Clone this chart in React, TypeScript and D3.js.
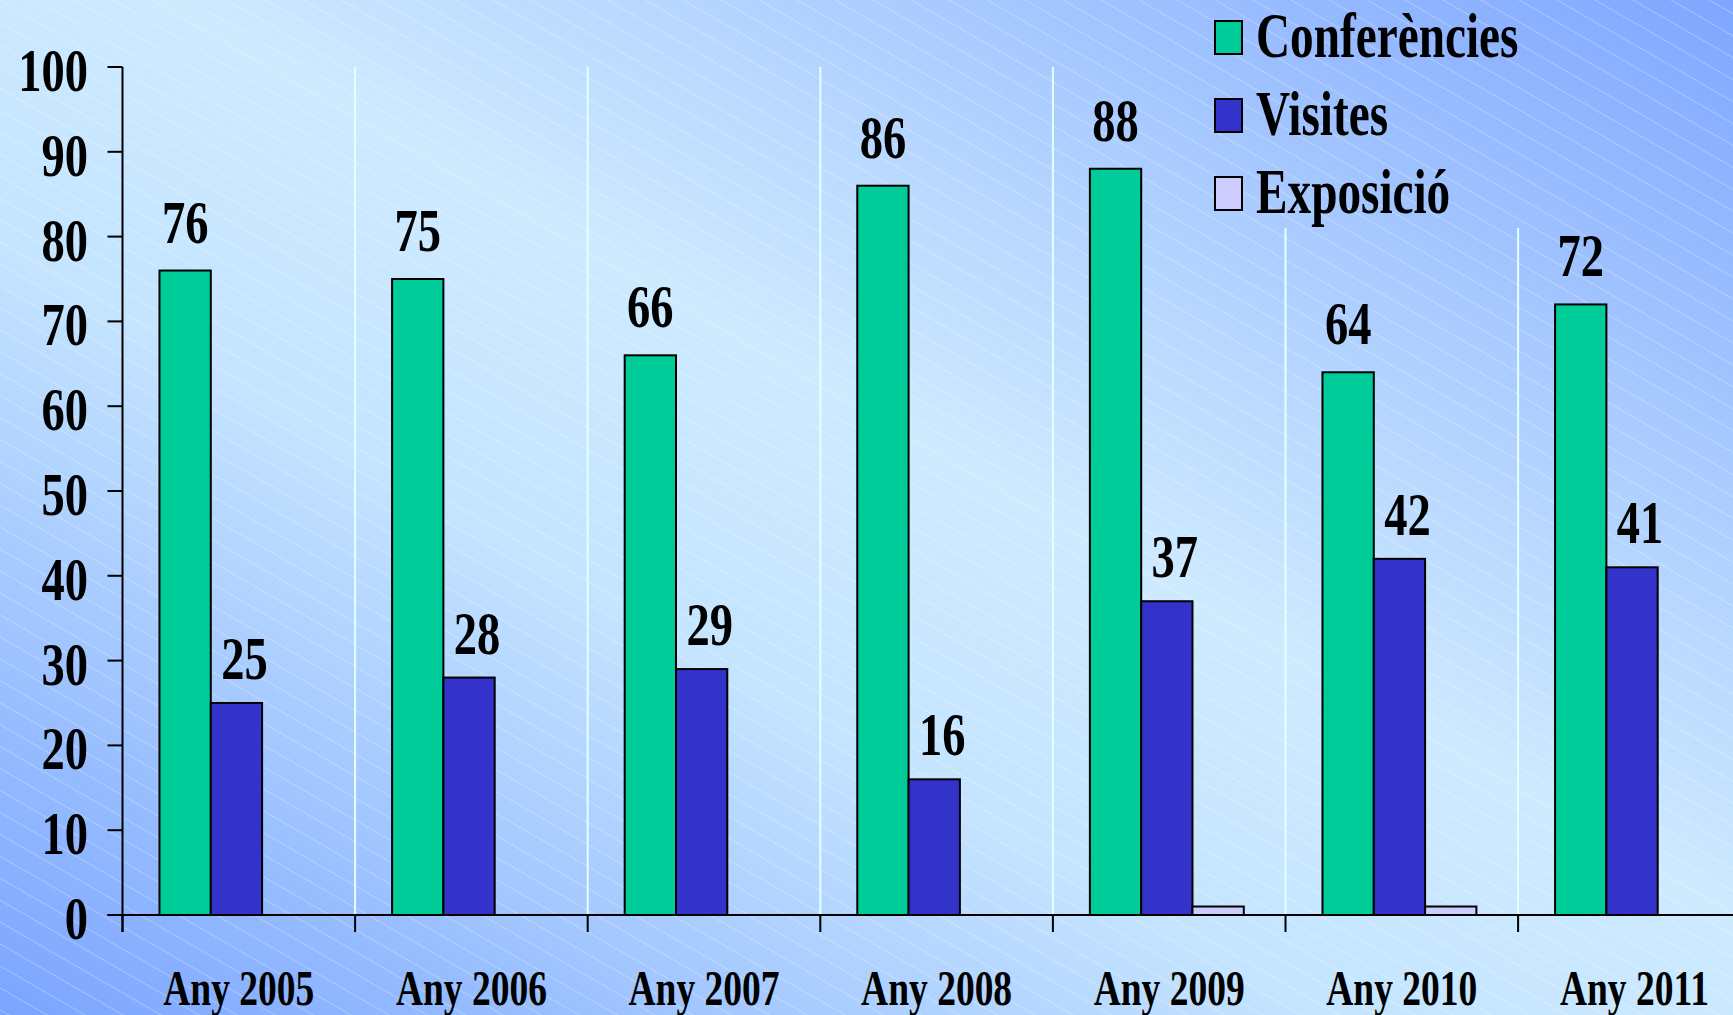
import React, { useRef, useEffect } from "react";
import * as d3 from "d3";

const years = ["Any 2005", "Any 2006", "Any 2007", "Any 2008", "Any 2009", "Any 2010", "Any 2011"];
const seriesNames = ["Conferències", "Visites", "Exposició"];
const conferencies = [76, 75, 66, 86, 88, 64, 72];
const visites = [25, 28, 29, 16, 37, 42, 41];
const exposicio = [0, 0, 0, 0, 1, 1, 0];
const yTicks = [0, 10, 20, 30, 40, 50, 60, 70, 80, 90, 100];
const colors = ["#00cc99", "#3333cc", "#ccccff"];

const W = 1733;
const H = 1015;
const FONT = "'Liberation Serif', 'Times New Roman', serif";
const SX = 0.75; // text looks squeezed horizontally

export default function App() {
    const ref = useRef<SVGSVGElement>(null);

    useEffect(() => {
        const svg = d3.select(ref.current);
        svg.selectAll("*").remove();

        const left = 122.5;
        const top = 67;
        const bottom = 915;
        const step = 232.6;

        const x = d3.scaleBand().domain(years).range([left, left + step * years.length]);
        const x1 = d3.scaleBand().domain(seriesNames).range([0, x.bandwidth()])
            .paddingOuter(0.767).align(0.47);
        const y = d3.scaleLinear().domain([0, 100]).range([bottom, top]);

        // background
        const defs = svg.append("defs");
        const grad = defs.append("linearGradient").attr("id", "bg")
            .attr("x1", 0).attr("y1", 1).attr("x2", 1).attr("y2", 0);
        grad.append("stop").attr("offset", "0%").attr("stop-color", "#7aa4ff");
        grad.append("stop").attr("offset", "38%").attr("stop-color", "#c4e4ff");
        grad.append("stop").attr("offset", "55%").attr("stop-color", "#cdeaff");
        grad.append("stop").attr("offset", "68%").attr("stop-color", "#b8d8ff");
        grad.append("stop").attr("offset", "100%").attr("stop-color", "#7ea6ff");

        const pat = defs.append("pattern").attr("id", "hatch")
            .attr("patternUnits", "userSpaceOnUse")
            .attr("width", 40).attr("height", 19)
            .attr("patternTransform", "rotate(30)");
        pat.append("line").attr("x1", 0).attr("x2", 40).attr("y1", 0.5).attr("y2", 0.5)
            .style("stroke", "#ffffff").style("stroke-opacity", 0.3).style("stroke-width", 0.9);

        svg.append("rect").attr("width", W).attr("height", H).style("fill", "url(#bg)");
        svg.append("rect").attr("width", W).attr("height", H).style("fill", "url(#hatch)");

        // legend area hides gridlines
        const legendLeft = 1205;
        const legendBottom = 228;

        svg.append("g")
            .selectAll("line")
            .data(years.slice(1))
            .enter()
            .append("line")
            .attr("x1", (d) => x(d))
            .attr("x2", (d) => x(d))
            .attr("y1", (d) => ((x(d) as number) > legendLeft ? legendBottom : top))
            .attr("y2", bottom)
            .style("stroke", "#e4ffff")
            .style("stroke-width", 2);

        const values = [conferencies, visites, exposicio];

        // bars
        seriesNames.forEach((s, si) => {
            svg.append("g")
                .selectAll("rect")
                .data(values[si].map((v, i) => ({ year: years[i], v })).filter((d) => d.v > 0))
                .enter()
                .append("rect")
                .attr("x", (d) => (x(d.year) as number) + (x1(s) as number))
                .attr("y", (d) => y(d.v))
                .attr("width", x1.bandwidth())
                .attr("height", (d) => bottom - y(d.v))
                .style("fill", colors[si])
                .style("stroke", "#000")
                .style("stroke-width", 2);
        });

        const addText = (g, tx, ty, txt, size, anchor) => {
            g.append("text")
                .attr("transform", `translate(${tx},${ty}) scale(${SX},1)`)
                .attr("text-anchor", anchor)
                .style("font-family", FONT)
                .style("font-weight", "bold")
                .style("font-size", size + "px")
                .style("fill", "#000")
                .text(txt);
        };

        // value labels
        const lab = svg.append("g");
        conferencies.forEach((v, i) => {
            const cx = (x(years[i]) as number) + (x1(seriesNames[0]) as number) + x1.bandwidth() / 2;
            addText(lab, cx, y(v) - 28, String(v), 62, "middle");
        });
        visites.forEach((v, i) => {
            const cx = (x(years[i]) as number) + (x1(seriesNames[1]) as number) + x1.bandwidth() / 2;
            addText(lab, cx + 8, y(v) - 24, String(v), 62, "middle");
        });

        // axes
        const ax = svg.append("g").style("stroke", "#000").style("stroke-width", 2);
        ax.append("line").attr("x1", left).attr("x2", left).attr("y1", top).attr("y2", bottom + 17);
        ax.append("line").attr("x1", left - 15).attr("x2", W).attr("y1", bottom).attr("y2", bottom);
        ax.selectAll(".yt").data(yTicks).enter().append("line")
            .attr("x1", left - 15).attr("x2", left)
            .attr("y1", (d) => y(d)).attr("y2", (d) => y(d));
        ax.selectAll(".xt").data(years).enter().append("line")
            .attr("x1", (d) => x(d)).attr("x2", (d) => x(d))
            .attr("y1", bottom).attr("y2", bottom + 17);

        const tl = svg.append("g");
        yTicks.forEach((t) => addText(tl, 88, y(t) + 24, String(t), 62, "end"));
        years.forEach((yr) => addText(tl, (x(yr) as number) + x.bandwidth() / 2, 1005, yr, 50, "middle"));

        // legend
        const lg = svg.append("g");
        seriesNames.forEach((s, i) => {
            const ry = 21 + i * 78;
            lg.append("rect")
                .attr("x", 1215).attr("y", ry)
                .attr("width", 27).attr("height", 33)
                .style("fill", colors[i])
                .style("stroke", "#000")
                .style("stroke-width", 2);
            addText(lg, 1256, ry + 36, s, 63, "start");
        });
    }, []);

    return (
        <div style={{ position: "absolute", left: 0, top: 0 }}>
            <svg ref={ref} width={W} height={H} style={{ display: "block" }}></svg>
        </div>
    );
}
